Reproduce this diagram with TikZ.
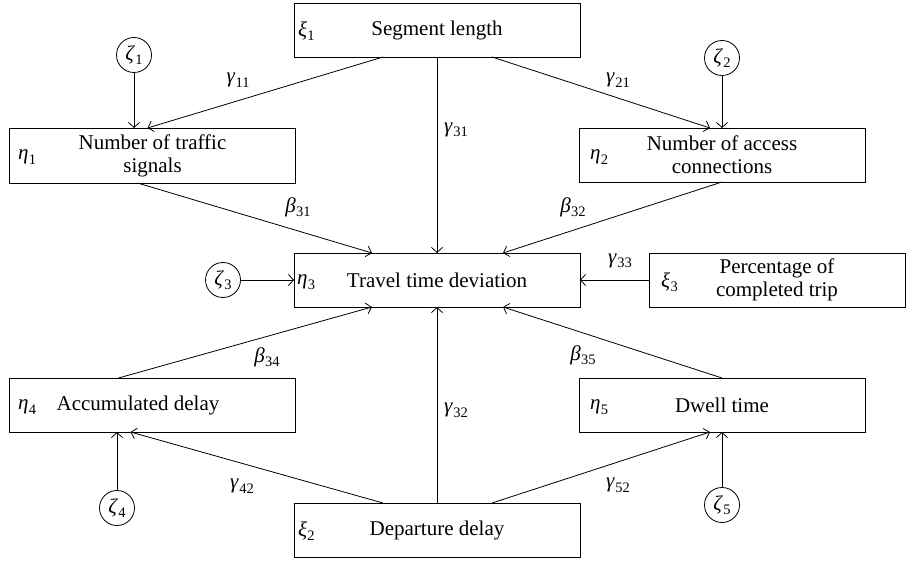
\documentclass[tikz,border=0pt]{standalone}
\usepackage{fontspec}
\setmainfont{Liberation Serif}
\usetikzlibrary{arrows.meta}
\newcommand{\gsb}[2]{\textit{#1}\kern0.3pt\raisebox{-4.5pt}{\fontsize{14.5}{14.5}\selectfont #2}}
\begin{document}
\begin{tikzpicture}[x=1pt,y=-1pt,
  every node/.style={font=\fontsize{21}{23}\selectfont},
  box/.style={draw,line width=0.9pt,inner sep=0pt,outer sep=0pt,align=center,minimum height=54pt},
  wide/.style={minimum width=286pt},
  err/.style={draw,circle,line width=0.8pt,minimum size=35pt,inner sep=0pt,outer sep=0pt},
  var/.style={anchor=west,inner sep=0pt},
  coef/.style={inner sep=0pt},
  arr/.style={line width=0.8pt,-{Straight Barb[length=5pt,width=11pt,line width=0.8pt]}}
]
\useasboundingbox (0,0) rectangle (907,561);

% boxes
\node[box,wide] (xi1) at (437,30) {Segment length};
\node[box,wide,minimum height=55pt] (eta1) at (152.5,155.5) {Number of traffic\\signals};
\node[box,wide] (eta2) at (722,155) {Number of access\\connections};
\node[box,wide] (eta3) at (437,280) {Travel time deviation};
\node[box,minimum width=256pt] (xi3) at (777,280) {Percentage of\\completed trip};
\node[box,wide] (eta4) at (152.5,405) {};
\node (t4) at (138,405) {Accumulated delay};
\node[box,wide] (eta5) at (722,405) {Dwell time};
\node[box,wide] (xi2) at (437,530) {Departure delay};

% variable symbols
\node[var] (sxi1) at (298,31) {\gsb{ξ}{1}};
\node[var] (seta1) at (18,157) {\gsb{η}{1}};
\node[var] (seta2) at (590,157) {\gsb{η}{2}};
\node[var] (seta3) at (297,282) {\gsb{η}{3}};
\node[var] (sxi3) at (661,282) {\gsb{ξ}{3}};
\node[var] (seta4) at (18,407) {\gsb{η}{4}};
\node[var] (seta5) at (590,407) {\gsb{η}{5}};
\node[var] (sxi2) at (298,531) {\gsb{ξ}{2}};

% error circles
\node[err] (z1) at (134,55) {\gsb{ζ}{1}};
\node[err] (z2) at (722,58) {\gsb{ζ}{2}};
\node[err] (z3) at (223,280) {\gsb{ζ}{3}};
\node[err] (z4) at (117,508) {\gsb{ζ}{4}};
\node[err] (z5) at (722,505) {\gsb{ζ}{5}};

% connectors
\draw[arr] ([xshift=-54pt]xi1.south) -- ([xshift=-5pt]eta1.north);
\draw[arr] (z1) -- (z1 |- eta1.north);
\draw[arr] ([xshift=55pt]xi1.south) -- ([xshift=-12pt]eta2.north);
\draw[arr] (z2) -- (eta2);
\draw[arr] (xi1) -- (eta3);
\draw[arr] ([xshift=-15pt]eta1.south) -- ([xshift=-65pt]eta3.north);
\draw[arr] (eta2.south) -- ([xshift=66pt]eta3.north);
\draw[arr] (z3) -- (eta3);
\draw[arr] (xi3) -- (eta3);
\draw[arr] ([xshift=-34pt]eta4.north) -- ([xshift=-65pt]eta3.south);
\draw[arr] (eta5.north) -- ([xshift=66pt]eta3.south);
\draw[arr] (xi2) -- (eta3);
\draw[arr] ([xshift=-54pt]xi2.north) -- ([xshift=-22pt]eta4.south);
\draw[arr] (z4) -- (z4 |- eta4.south);
\draw[arr] ([xshift=55pt]xi2.north) -- ([xshift=-12pt]eta5.south);
\draw[arr] (z5) -- (eta5);

% coefficients
\node[coef] (g11) at (238,80) {\gsb{γ}{11}};
\node[coef] (g21) at (618,80) {\gsb{γ}{21}};
\node[coef] (g31) at (456,130) {\gsb{γ}{31}};
\node[coef] (b31) at (298,207) {\gsb{β}{31}};
\node[coef] (b32) at (573,207) {\gsb{β}{32}};
\node[coef] (g33) at (620,261) {\gsb{γ}{33}};
\node[coef] (b34) at (267,357) {\gsb{β}{34}};
\node[coef] (b35) at (583,355) {\gsb{β}{35}};
\node[coef] (g32) at (456,410) {\gsb{γ}{32}};
\node[coef] (g42) at (242,486) {\gsb{γ}{42}};
\node[coef] (g52) at (618,485) {\gsb{γ}{52}};
\end{tikzpicture}
\end{document}
